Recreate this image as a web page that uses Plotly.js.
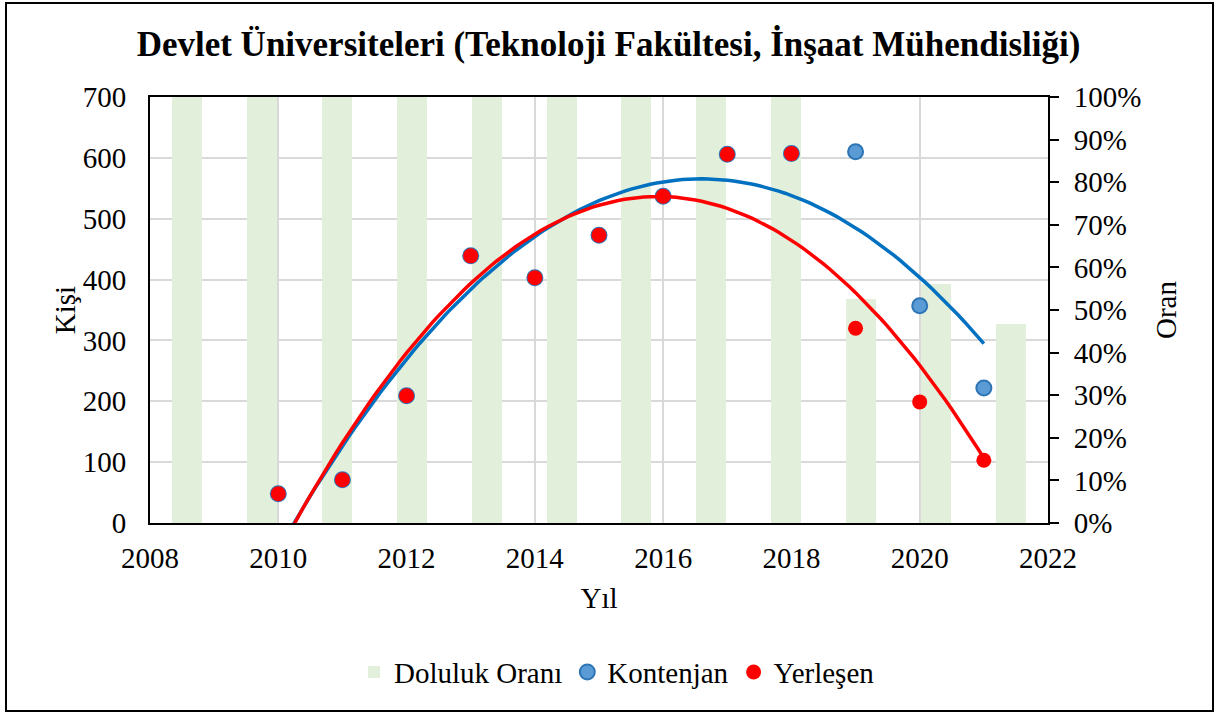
<!DOCTYPE html>
<html><head><meta charset="utf-8">
<script src="https://cdn.plot.ly/plotly-3.0.1.min.js"></script>
<style>
body{margin:0;background:#fff}
#frame{position:absolute;left:5px;top:2px;width:1205px;height:706px;border:2px solid #000;pointer-events:none}
</style>
</head><body>
<div id="chart" style="position:absolute;left:0;top:0;width:1217px;height:713px"></div>
<div id="frame"></div>
<script>
const years = [2010,2011,2012,2013,2014,2015,2016,2017,2018,2019,2020,2021];
const yearLabels = ['2010','2011','2012','2013','2014','2015','2016','2017','2018','2019','2020','2021'];
const kontenjan = [48,71,209,439,403,473,537,606,607,610,357,222];
const yerlesen = [48,71,209,439,403,473,537,606,607,320,199,103];
const dolulukOrani = [1,1,1,1,1,1,1,1,1,0.526,0.561,0.467];

function polyfit2(xs, ys){
  const x0 = 2015;
  let S=[0,0,0,0,0], T=[0,0,0];
  for(let i=0;i<xs.length;i++){
    const t=xs[i]-x0;
    for(let k=0;k<5;k++) S[k]+=Math.pow(t,k);
    for(let k=0;k<3;k++) T[k]+=ys[i]*Math.pow(t,k);
  }
  const A=[[S[0],S[1],S[2],T[0]],[S[1],S[2],S[3],T[1]],[S[2],S[3],S[4],T[2]]];
  for(let c=0;c<3;c++){
    for(let r=c+1;r<3;r++){
      const f=A[r][c]/A[c][c];
      for(let k=c;k<4;k++) A[r][k]-=f*A[c][k];
    }
  }
  const b=[0,0,0];
  for(let r=2;r>=0;r--){
    let s=A[r][3];
    for(let k=r+1;k<3;k++) s-=A[r][k]*b[k];
    b[r]=s/A[r][r];
  }
  return x => b[0]+b[1]*(x-x0)+b[2]*(x-x0)*(x-x0);
}
function trend(xs, ys){
  const f=polyfit2(xs,ys);
  const tx=[],ty=[];
  const n=110, a=xs[0], z=xs[xs.length-1];
  for(let i=0;i<=n;i++){const x=a+(z-a)*i/n; tx.push(x); ty.push(f(x));}
  return {tx,ty};
}
const tk = trend(years, kontenjan);
const ty = trend(years, yerlesen);

const FONT = 'Liberation Serif, Times New Roman, serif';
const FS = 29;
const data = [
  {type:'bar', name:'Doluluk Oranı', x:yearLabels, y:dolulukOrani, xaxis:'x', yaxis:'y',
   marker:{color:'#E2EFDA'}, width:0.4, hoverinfo:'skip'},
  {type:'scatter', mode:'markers', name:'Kontenjan', x:years, y:kontenjan, xaxis:'x2', yaxis:'y2',
   marker:{size:15, color:'#5B9BD5', line:{color:'#2E75B6', width:2}}},
  {type:'scatter', mode:'markers', name:'Yerleşen', x:years, y:yerlesen, xaxis:'x2', yaxis:'y2',
   marker:{size:15, color:'#FF0000'}},
  {type:'scatter', mode:'lines', x:tk.tx, y:tk.ty, xaxis:'x2', yaxis:'y2', showlegend:false,
   line:{color:'#0070C0', width:3.5}, hoverinfo:'skip'},
  {type:'scatter', mode:'lines', x:ty.tx, y:ty.ty, xaxis:'x2', yaxis:'y2', showlegend:false,
   line:{color:'#FF0000', width:3.5}, hoverinfo:'skip'}
];
const layout = {
  width:1217, height:713,
  margin:{l:150, r:169, t:97, b:190, pad:0},
  paper_bgcolor:'#fff', plot_bgcolor:'#fff',
  font:{family:FONT, size:FS, color:'#000'},
  title:{text:'<b>Devlet Üniversiteleri (Teknoloji Fakültesi, İnşaat Mühendisliği)</b>',
    font:{family:FONT, size:35, color:'#000'}, x:0.5, xanchor:'center', y:0.938, yanchor:'middle'},
  showlegend:true,
  legend:{orientation:'h', x:0.52, xanchor:'center', y:-0.35, yanchor:'middle',
    font:{family:FONT, size:FS, color:'#000'}, traceorder:'normal', itemwidth:30},
  bargap:0,
  xaxis:{type:'category', range:[-0.5,11.5], visible:false, fixedrange:true},
  yaxis:{side:'right', range:[0,1], dtick:0.1, tickformat:'.0%', showgrid:false, zeroline:false,
    showline:true, linecolor:'#000', linewidth:2, ticks:'outside', ticklen:9, tickwidth:2, tickcolor:'#000',
    ticklabelstandoff:9, tickfont:{family:FONT, size:FS, color:'#000'},
    title:{text:'Oran', standoff:15, font:{family:FONT, size:FS, color:'#000'}}},
  xaxis2:{overlaying:'x', side:'bottom', range:[2008,2022], dtick:2, tick0:2008,
    showgrid:true, gridcolor:'#D9D9D9', gridwidth:2, zeroline:false,
    showline:true, linecolor:'#000', linewidth:2, mirror:true, ticks:'', ticklabelstandoff:8,
    tickfont:{family:FONT, size:FS, color:'#000'},
    title:{text:'Yıl', standoff:15, font:{family:FONT, size:FS, color:'#000'}}},
  yaxis2:{overlaying:'y', side:'left', range:[0,700], dtick:100,
    showgrid:true, gridcolor:'#D9D9D9', gridwidth:2, zeroline:false,
    showline:true, linecolor:'#000', linewidth:2, ticks:'', ticklabelstandoff:16,
    tickfont:{family:FONT, size:FS, color:'#000'},
    title:{text:'Kişi', font:{family:FONT, size:FS, color:'#000'}}}
};
Plotly.newPlot('chart', data, layout, {displayModeBar:false, staticPlot:true});
</script>
</body></html>
